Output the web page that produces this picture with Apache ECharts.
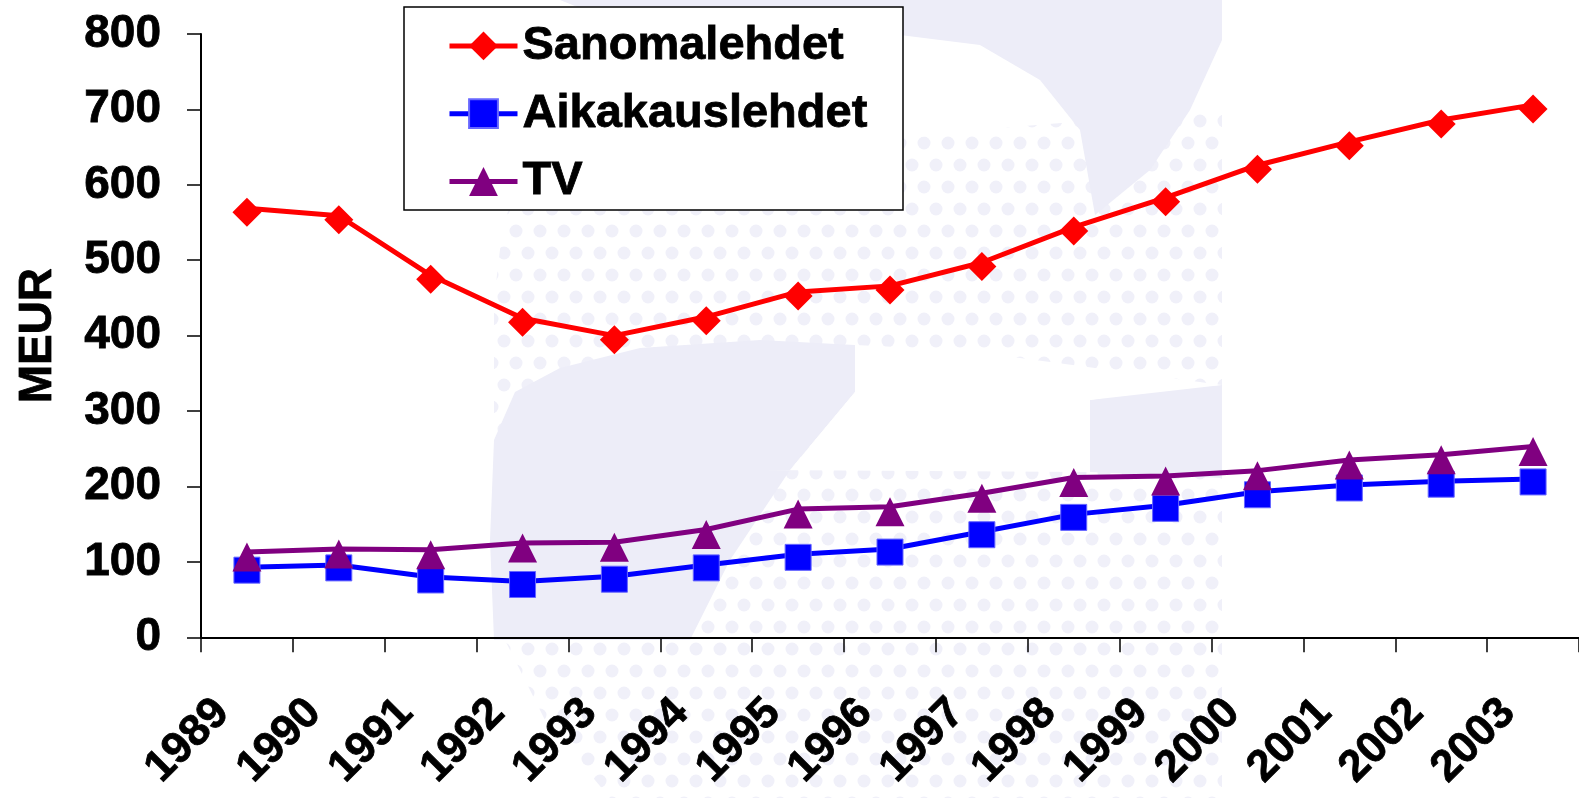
<!DOCTYPE html>
<html>
<head>
<meta charset="utf-8">
<script src="https://cdn.jsdelivr.net/npm/echarts@6/dist/echarts.min.js"></script>
<style>
html,body{margin:0;padding:0;background:#fff;}
#chart{width:1579px;height:798px;}
</style>
</head>
<body>
<div id="chart"></div>
<script>
const years = ['1989','1990','1991','1992','1993','1994','1995','1996','1997','1998','1999','2000','2001','2002','2003'];
const sanomalehdet = [569, 559, 480, 423, 400, 425, 458, 466, 497, 544, 583, 626, 657, 686, 706];
const aikakauslehdet = [93, 96, 80, 74, 81, 96, 110, 117, 140, 163, 175, 193, 202, 207, 210];
const tv = [113, 117, 116, 125, 126, 143, 170, 173, 191, 212, 214, 221, 235, 242, 253];
const yTicks = {min: 0, max: 800, interval: 100};
const seriesNames = ['Sanomalehdet', 'Aikakauslehdet', 'TV'];

const FONT = '"Liberation Sans", Arial, sans-serif';
const PALE = '#ededf8';

// decorative halftone pattern for the faint background watermark
function makeDots() {
  const c = document.createElement('canvas');
  c.width = 24; c.height = 44;
  const g = c.getContext('2d');
  g.fillStyle = '#f0f0f9';
  g.beginPath(); g.arc(12, 11, 6.5, 0, Math.PI * 2); g.fill();
  g.beginPath(); g.arc(0, 33, 6.5, 0, Math.PI * 2); g.fill();
  g.beginPath(); g.arc(24, 33, 6.5, 0, Math.PI * 2); g.fill();
  return c;
}
const dots = makeDots();

const chart = echarts.init(document.getElementById('chart'), null, {renderer: 'canvas'});

const boldText = {fontFamily: FONT, fontWeight: 'bold', color: '#000', textBorderColor: '#000', textBorderWidth: 0.8};

chart.setOption({
  animation: false,
  backgroundColor: '#ffffff',
  grid: {left: 201, top: 34, right: -9.5, bottom: 160.7},
  graphic: [
    {type: 'polygon', z: -5, silent: true,
     shape: {points: [[520,180],[620,165],[800,150],[1000,128],[1222,110],[1222,798],[610,798],[545,720],[505,640],[494,560],[494,300],[503,225]]},
     style: {fill: {image: dots, repeat: 'repeat'}}},
    {type: 'polygon', z: -4, silent: true,
     shape: {points: [[494,440],[515,392],[560,368],[640,348],[760,340],[855,345],[855,392],[790,470],[730,560],[690,640],[494,640],[490,540]]},
     style: {fill: PALE}},
    {type: 'polygon', z: -4, silent: true,
     shape: {points: [[560,0],[1222,0],[1222,40],[1190,110],[1150,170],[1095,215],[1080,130],[1040,80],[980,45],[860,30],[700,22],[600,16]]},
     style: {fill: PALE}},
    {type: 'polygon', z: -4, silent: true,
     shape: {points: [[1090,400],[1150,390],[1222,385],[1222,478],[1090,472]]},
     style: {fill: PALE}},
    {type: 'polygon', z: -4, silent: true,
     shape: {points: [[855,345],[960,350],[1080,366],[1222,385],[1090,400],[1090,472],[760,470],[790,470],[855,392]]},
     style: {fill: '#ffffff'}},
    {type: 'rect', z: 1,
     shape: {x: 404, y: 7, width: 499, height: 203},
     style: {fill: '#ffffff', stroke: '#000000', lineWidth: 1.5}}
  ],
  legend: {
    z: 5,
    orient: 'vertical',
    left: 447, top: 22,
    padding: 0,
    itemWidth: 68, itemHeight: 36, itemGap: 20,
    lineStyle: {width: 5},
    textStyle: Object.assign({fontSize: 47}, boldText),
    data: seriesNames
  },
  xAxis: {
    type: 'category',
    data: years,
    boundaryGap: true,
    axisLine: {lineStyle: {color: '#000', width: 2}},
    axisTick: {show: true, length: 15, inside: false, lineStyle: {color: '#000', width: 1.5}},
    axisLabel: Object.assign({
      interval: 0, rotate: 45, margin: 44, padding: [0, 35, 0, 0], fontSize: 44
    }, boldText),
    splitLine: {show: false}
  },
  yAxis: {
    type: 'value',
    min: yTicks.min, max: yTicks.max, interval: yTicks.interval,
    name: 'MEUR', nameLocation: 'middle', nameGap: 140, nameRotate: 90,
    nameTextStyle: Object.assign({fontSize: 46}, boldText),
    axisLine: {show: true, lineStyle: {color: '#000', width: 2}},
    axisTick: {show: true, length: 14, lineStyle: {color: '#000', width: 1.5}},
    axisLabel: Object.assign({margin: 40, fontSize: 46}, boldText),
    splitLine: {show: false}
  },
  series: [
    {
      name: seriesNames[0], type: 'line', data: sanomalehdet,
      symbol: 'diamond', symbolSize: 29, symbolOffset: [0, 4], showAllSymbol: true,
      lineStyle: {color: '#ff0000', width: 5},
      itemStyle: {color: '#ff0000'}, z: 4
    },
    {
      name: seriesNames[1], type: 'line', data: aikakauslehdet,
      symbol: 'rect', symbolSize: 26, symbolOffset: [0, 3], showAllSymbol: true,
      lineStyle: {color: '#0000ff', width: 5},
      itemStyle: {color: '#0000ff', borderColor: '#6666ff', borderWidth: 1}, z: 3
    },
    {
      name: seriesNames[2], type: 'line', data: tv,
      symbol: 'triangle', symbolSize: 29, symbolOffset: [0, 5], showAllSymbol: true,
      lineStyle: {color: '#800080', width: 5},
      itemStyle: {color: '#800080'}, z: 4
    }
  ]
});
</script>
</body>
</html>
